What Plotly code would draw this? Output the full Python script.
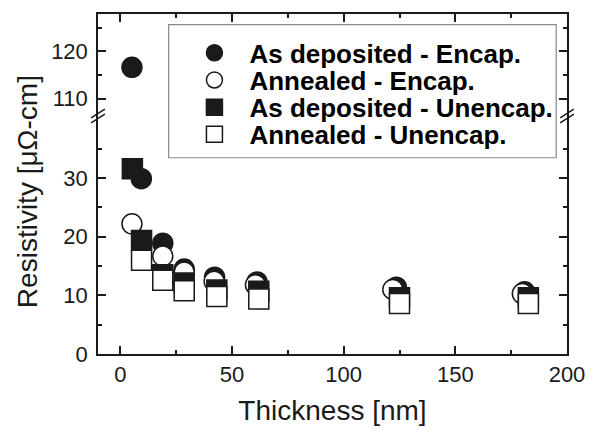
import plotly.graph_objects as go

# ---- data ----
thick_enc_dep = [5.2, 9.4, 19.0, 28.6, 42.2, 61.2, 123.6, 181.0]
rho_enc_dep = [116.6, 29.9, 18.9, 14.5, 13.1, 12.3, 11.4, 10.6]
thick_enc_ann = [5.2, 19.0, 28.6, 42.0, 60.5, 122.0, 180.0]
rho_enc_ann = [22.2, 16.7, 14.0, 12.4, 11.8, 11.0, 10.3]
thick_unenc_dep = [5.4, 9.5, 19.0, 28.6, 43.2, 62.0, 125.0, 182.7]
rho_unenc_dep = [31.6, 19.35, 13.5, 12.1, 10.9, 10.7, 9.6, 9.6]
thick_unenc_ann = [9.5, 19.0, 28.6, 43.2, 62.0, 125.0, 182.7]
rho_unenc_ann = [16.0, 12.6, 10.8, 9.8, 9.4, 8.6, 8.6]

series_names = ["As deposited - Encap.", "Annealed - Encap.",
                "As deposited - Unencap.", "Annealed - Unencap."]

x_ticks = [0, 50, 100, 150, 200]
x_minor = [25, 75, 125, 175]
y_low_ticks = [0, 10, 20, 30]
y_low_minor = [5, 15, 25, 35]
y_high_ticks = [110, 120]
y_high_minor = [115, 125]

# ---- geometry / style ----
W, H = 597, 433
ML, MR, MT, MB = 98, 21, 14, 69
PW, PH = W - ML - MR, H - MT - MB
BREAK = 0.70
INK = "#1a1a1a"
FONT = "Liberation Sans, Arial, sans-serif"


def px_x(px):
    return (px - ML) / PW


def px_y(py):
    return (H - MB - py) / PH


styles = [
    dict(symbol="circle", color=INK, line=dict(color=INK, width=1.5)),
    dict(symbol="circle", color="white", line=dict(color=INK, width=1.5)),
    dict(symbol="square", color=INK, line=dict(color=INK, width=1.5)),
    dict(symbol="square", color="white", line=dict(color=INK, width=1.5)),
]
data = [(thick_enc_dep, rho_enc_dep), (thick_enc_ann, rho_enc_ann),
        (thick_unenc_dep, rho_unenc_dep), (thick_unenc_ann, rho_unenc_ann)]
legend_ids = ["legend", "legend2", "legend3", "legend4"]

fig = go.Figure()
for (xs, ys), name, st, lg in zip(data, series_names, styles, legend_ids):
    fig.add_trace(go.Scatter(x=xs, y=ys, mode="markers", name=name,
                             marker=dict(size=20, **st), legend=lg,
                             xaxis="x", yaxis="y"))
for (xs, ys), name, st in zip(data, series_names, styles):
    fig.add_trace(go.Scatter(x=xs, y=ys, mode="markers", name=name,
                             marker=dict(size=20, **st), showlegend=False,
                             xaxis="x2", yaxis="y2"))

axis_common = dict(showline=True, linewidth=1.5, linecolor=INK, showgrid=False,
                   zeroline=False, ticks="inside", ticklen=8, tickwidth=1.5,
                   tickcolor=INK, tickfont=dict(family=FONT, size=22, color=INK))

fig.update_layout(
    width=W, height=H,
    margin=dict(l=ML, r=MR, t=MT, b=MB),
    paper_bgcolor="white", plot_bgcolor="white",
    font=dict(family=FONT, color=INK),
    xaxis=dict(domain=[0, 1], anchor="y", range=[-10, 200], tickvals=x_ticks,
               minor=dict(tickvals=x_minor, ticks="inside", ticklen=4, tickwidth=1.5, tickcolor=INK),
               title=dict(text="Thickness [nm]", font=dict(family=FONT, size=28, color=INK), standoff=14),
               **axis_common),
    xaxis2=dict(domain=[0, 1], anchor="y2", side="top", matches="x", range=[-10, 200],
                tickvals=x_ticks, showticklabels=False,
                minor=dict(tickvals=x_minor, ticks="inside", ticklen=4, tickwidth=1.5, tickcolor=INK),
                **axis_common),
    yaxis=dict(domain=[0, BREAK], anchor="x", range=[0, 40.6], tickvals=y_low_ticks,
               mirror="ticks", ticklabelstandoff=4,
               minor=dict(tickvals=y_low_minor, ticks="inside", ticklen=4, tickwidth=1.5, tickcolor=INK),
               **axis_common),
    yaxis2=dict(domain=[BREAK, 1], anchor="x2", range=[106.3, 127.9], tickvals=y_high_ticks,
                mirror="ticks", ticklabelstandoff=4,
                minor=dict(tickvals=y_high_minor, ticks="inside", ticklen=4, tickwidth=1.5, tickcolor=INK),
                **axis_common),
)

# legends: one row each, pitch 28 px
row_centers = [54, 82, 110, 138]
leg_font = dict(family=FONT, size=26, color="black", weight="bold")
for lg, yc in zip(legend_ids, row_centers):
    fig.update_layout({lg: dict(x=px_x(181), y=px_y(yc), xanchor="left", yanchor="middle",
                                bgcolor="rgba(0,0,0,0)", borderwidth=0, font=leg_font,
                                itemwidth=60)})

# legend frame
fig.add_shape(type="rect", xref="paper", yref="paper",
              x0=px_x(170), x1=px_x(565), y0=px_y(162), y1=px_y(25),
              line=dict(color="#8a8a8a", width=1.2))

# axis-break marks
yb = H - MB - BREAK * PH
for xc in (ML, ML + PW):
    for off in (-2.5, 2.5):
        fig.add_shape(type="line", xref="paper", yref="paper",
                      x0=px_x(xc - 7), y0=px_y(yb + 4.5 + off),
                      x1=px_x(xc + 7), y1=px_y(yb - 4.5 + off),
                      line=dict(color=INK, width=1.5))

# y-axis title spanning both panels
fig.add_annotation(text="Resistivity [μΩ-cm]", xref="paper", yref="paper",
                   x=px_x(26), y=px_y(197), textangle=-90, showarrow=False,
                   xanchor="center", yanchor="middle",
                   font=dict(family=FONT, size=28, color=INK))

fig.write_html("out.html")
